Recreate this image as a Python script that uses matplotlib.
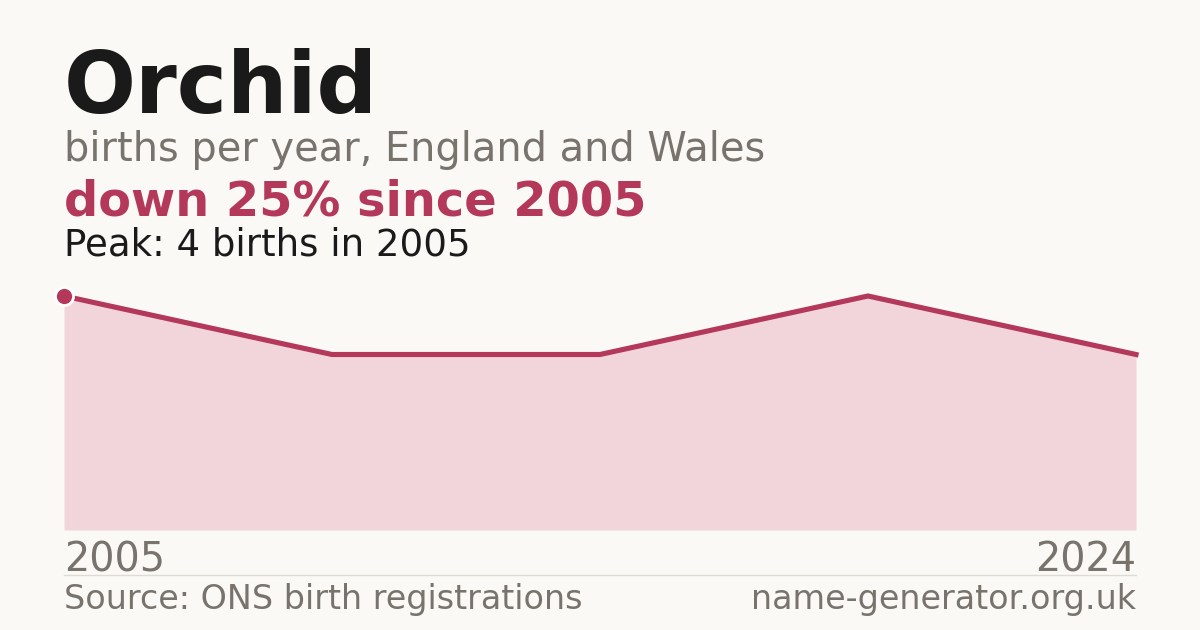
import matplotlib
matplotlib.use("Agg")
import matplotlib.pyplot as plt
import numpy as np

# data
years = [2005, 2010, 2015, 2020, 2024]
births = [4, 3, 3, 4, 3]
tick_labels = ["2005", "2024"]

title = "Orchid"
subtitle = "births per year, England and Wales"
change_text = "down 25% since 2005"
peak_text = "Peak: 4 births in 2005"
source_text = "Source: ONS birth registrations"
site_text = "name-generator.org.uk"

BG = "#FAF9F5"
RED = "#B3385A"
FILL = "#F2D5DB"
DARK = "#1A1A1A"
GREY = "#78736C"

W, H = 1200, 630
plt.rcParams['font.family'] = ['DejaVu Sans']

fig = plt.figure(figsize=(12, 6.3), dpi=100, facecolor=BG)


def fx(px):
    return px / W


def fy(py):
    return 1 - py / H


# chart area: baseline at y=530, value 4 at y=296
left, right, base, top = 64, 1136, 530, 296
ax = fig.add_axes([fx(left), fy(base), fx(right - left), (base - top) / H])
ax.set_facecolor(BG)
xs = np.arange(len(years))
ax.fill_between(xs, 0, births, color=FILL, linewidth=0, zorder=1)
ax.plot(xs, births, color=RED, linewidth=3.7, solid_joinstyle='miter',
        clip_on=False, zorder=3)
ax.plot(xs[0], births[0], 'o', color=RED, markersize=13,
        markeredgecolor='white', markeredgewidth=2, clip_on=False, zorder=4)
ax.set_xlim(xs[0], xs[-1])
ax.set_ylim(0, max(births))
ax.axis('off')

# header text
fig.text(fx(64), fy(113), title, fontsize=61, fontweight='bold', color=DARK,
         va='baseline', ha='left')
fig.text(fx(64), fy(161), subtitle, fontsize=28.7, color=GREY,
         va='baseline', ha='left')
fig.text(fx(64), fy(216), change_text, fontsize=34.5, fontweight='bold',
         color=RED, va='baseline', ha='left')
fig.text(fx(64), fy(255), peak_text, fontsize=26.7, color=DARK,
         va='baseline', ha='left')

# year labels
fig.text(fx(64), fy(571), tick_labels[0], fontsize=28.6, color=GREY,
         va='baseline', ha='left')
fig.text(fx(1136), fy(571), tick_labels[1], fontsize=28.6, color=GREY,
         va='baseline', ha='right')

# separator
fig.add_artist(plt.Line2D([fx(64), fx(1136)], [fy(574.5), fy(574.5)],
                          color="#DEDBD4", linewidth=1))

# footer
fig.text(fx(64), fy(609), source_text, fontsize=24, color=GREY,
         va='baseline', ha='left')
fig.text(fx(1136), fy(609), site_text, fontsize=24, color=GREY,
         va='baseline', ha='right')

fig.savefig("out.png", dpi=100, facecolor=BG)
